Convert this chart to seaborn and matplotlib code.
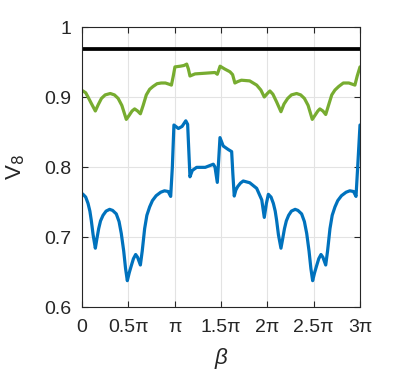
import numpy as np
import pandas as pd
import matplotlib
matplotlib.use("Agg")
import matplotlib.pyplot as plt
import seaborn as sns

# beta in units of pi
green_x = [0.0, 0.011, 0.04, 0.065, 0.10, 0.144, 0.175, 0.21, 0.25, 0.305, 0.35, 0.39, 0.43,
           0.478, 0.51, 0.54, 0.568, 0.60, 0.63, 0.66, 0.694, 0.73, 0.766, 0.81, 0.855, 0.90,
           0.946, 0.965, 0.985, 1.003, 1.06, 1.10, 1.13, 1.148, 1.165, 1.22, 1.33, 1.435, 1.46,
           1.475, 1.49, 1.54, 1.597, 1.625, 1.65, 1.68, 1.72, 1.81, 1.885, 1.93, 1.967, 2.0,
           2.028, 2.06, 2.10, 2.147, 2.18, 2.22, 2.26, 2.316, 2.36, 2.40, 2.44, 2.485, 2.52,
           2.545, 2.567, 2.60, 2.63, 2.66, 2.695, 2.73, 2.77, 2.82, 2.88, 2.945, 2.97, 3.0]
green_v = [0.909, 0.9086, 0.906, 0.900, 0.891, 0.880, 0.889, 0.898, 0.903, 0.905, 0.903, 0.898, 0.888,
           0.868, 0.874, 0.880, 0.883, 0.880, 0.876, 0.888, 0.903, 0.911, 0.915, 0.919, 0.920, 0.920,
           0.918, 0.917, 0.930, 0.943, 0.944, 0.945, 0.947, 0.940, 0.930, 0.933, 0.934, 0.935, 0.9325,
           0.938, 0.944, 0.940, 0.936, 0.932, 0.920, 0.922, 0.924, 0.923, 0.917, 0.910, 0.900, 0.905,
           0.9086, 0.904, 0.893, 0.879, 0.890, 0.898, 0.903, 0.905, 0.903, 0.898, 0.888, 0.868, 0.875,
           0.880, 0.883, 0.880, 0.875, 0.888, 0.903, 0.910, 0.915, 0.920, 0.920, 0.917, 0.930, 0.943]

blue_x = [0.0, 0.011, 0.04, 0.065, 0.085, 0.10, 0.12, 0.144, 0.16, 0.18, 0.20, 0.227, 0.26, 0.298,
          0.33, 0.37, 0.40, 0.424, 0.45, 0.47, 0.489, 0.51, 0.532, 0.555, 0.579, 0.60, 0.63, 0.65,
          0.676, 0.70, 0.73, 0.76, 0.80, 0.85, 0.89, 0.93, 0.957, 0.975, 0.992, 1.04, 1.08, 1.12,
          1.14, 1.165, 1.19, 1.237, 1.33, 1.417, 1.435, 1.46, 1.475, 1.489, 1.524, 1.578, 1.615,
          1.628, 1.643, 1.66, 1.68, 1.71, 1.74, 1.81, 1.885, 1.94, 1.967, 1.99, 2.011, 2.04,
          2.065, 2.085, 2.10, 2.12, 2.147, 2.165, 2.185, 2.205, 2.23, 2.26, 2.30, 2.33, 2.37,
          2.40, 2.425, 2.45, 2.47, 2.489, 2.51, 2.532, 2.555, 2.579, 2.60, 2.63, 2.65, 2.676,
          2.70, 2.73, 2.76, 2.80, 2.85, 2.89, 2.93, 2.957, 2.975, 3.0]
blue_v = [0.762, 0.761, 0.757, 0.748, 0.737, 0.724, 0.703, 0.684, 0.697, 0.712, 0.723, 0.731, 0.737,
          0.7395, 0.738, 0.733, 0.722, 0.705, 0.680, 0.655, 0.6376, 0.649, 0.659, 0.669, 0.675, 0.671,
          0.660, 0.680, 0.712, 0.731, 0.743, 0.752, 0.759, 0.764, 0.766, 0.765, 0.758, 0.800, 0.860,
          0.855, 0.858, 0.866, 0.861, 0.786, 0.795, 0.7995, 0.7995, 0.804, 0.800, 0.778, 0.810,
          0.842, 0.830, 0.825, 0.822, 0.790, 0.7585, 0.767, 0.772, 0.777, 0.780, 0.7775, 0.7695,
          0.753, 0.728, 0.748, 0.761, 0.757, 0.748, 0.737, 0.724, 0.703, 0.684, 0.697, 0.712,
          0.723, 0.731, 0.737, 0.7395, 0.738, 0.733, 0.722, 0.705, 0.680, 0.655, 0.6376, 0.649,
          0.659, 0.669, 0.675, 0.671, 0.660, 0.680, 0.712, 0.731, 0.743, 0.752, 0.759, 0.764,
          0.766, 0.765, 0.758, 0.800, 0.860]

black_x = [0.0, 3.0]
black_v = [0.968, 0.968]

xtick_vals = [0, 0.5, 1, 1.5, 2, 2.5, 3]
xtick_labels = ["0", "0.5π", "π", "1.5π", "2π", "2.5π", "3π"]
ytick_vals = [0.6, 0.7, 0.8, 0.9, 1.0]
ytick_labels = ["0.6", "0.7", "0.8", "0.9", "1"]

sns.set_theme(style="whitegrid")
plt.rcParams["font.family"] = ["Liberation Sans", "DejaVu Sans"]

fig = plt.figure(figsize=(3.99, 3.73), dpi=100)
ax = fig.add_axes([82 / 399, 1 - 307 / 373, 278 / 399, 280 / 373])
ax.set_facecolor("white")

df_g = pd.DataFrame({"beta": np.pi * np.array(green_x), "V": green_v})
df_b = pd.DataFrame({"beta": np.pi * np.array(blue_x), "V": blue_v})
df_k = pd.DataFrame({"beta": np.pi * np.array(black_x), "V": black_v})

sns.lineplot(data=df_k, x="beta", y="V", ax=ax, color="black", linewidth=2.7,
             estimator=None, sort=False)
sns.lineplot(data=df_g, x="beta", y="V", ax=ax, color="#77AC30", linewidth=2.3,
             estimator=None, sort=False, solid_joinstyle="round", solid_capstyle="round")
sns.lineplot(data=df_b, x="beta", y="V", ax=ax, color="#0072BD", linewidth=2.3,
             estimator=None, sort=False, solid_joinstyle="round", solid_capstyle="round")

ax.set_xlim(0, 3 * np.pi)
ax.set_ylim(0.6, 1.0)
ax.set_xticks(np.pi * np.array(xtick_vals))
ax.set_xticklabels(xtick_labels)
ax.set_yticks(ytick_vals)
ax.set_yticklabels(ytick_labels)

ax.grid(True, color="#e3e3e3", linewidth=0.8)
for s in ax.spines.values():
    s.set_visible(True)
    s.set_color("#262626")
    s.set_linewidth(0.8)

ax.tick_params(axis="both", which="both", direction="in", length=4, width=0.8,
               color="#262626", labelsize=14, labelcolor="#262626",
               top=True, right=True, bottom=True, left=True)
ax.tick_params(axis="x", pad=9)
ax.tick_params(axis="y", pad=8)

ax.set_xlabel("β", fontsize=16, fontstyle="italic", color="#262626", labelpad=8)
ax.set_ylabel("V$_8$", fontsize=16, color="#262626", labelpad=12)

fig.savefig("out.png", dpi=100, facecolor="white")
